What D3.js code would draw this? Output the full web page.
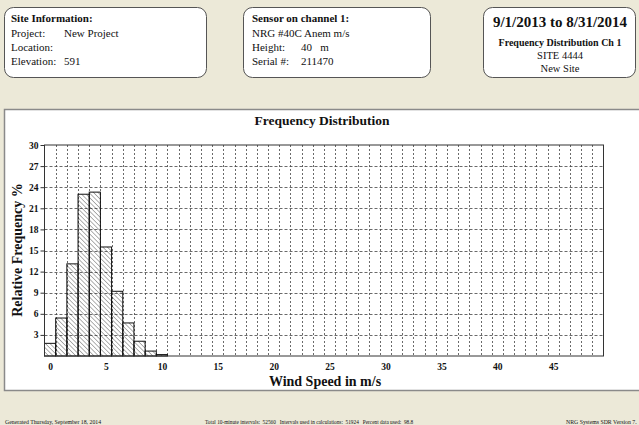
<!DOCTYPE html>
<html>
<head>
<meta charset="utf-8">
<script src="https://cdn.jsdelivr.net/npm/d3@7"></script>
<style>
  body { margin: 0; background: #ece9d8; }
  svg { display: block; }
  text { font-family: "Liberation Serif", "Times New Roman", "DejaVu Serif", serif; fill: #111; }
</style>
</head>
<body>
<div id="chart"></div>
<script>
// wind speed bins (m/s) and relative frequency (%)
const speedBins = [0, 1, 2, 3, 4, 5, 6, 7, 8, 9, 10];
const relFreq = [1.8, 5.4, 13.1, 23.0, 23.3, 15.5, 9.2, 4.7, 2.1, 0.7, 0.2];
const xTicks = [0, 5, 10, 15, 20, 25, 30, 35, 40, 45];
const yTicks = [3, 6, 9, 12, 15, 18, 21, 24, 27, 30];

const siteLines = [["Project:", "New Project"], ["Location:", ""], ["Elevation:", "591"]];
const sensorLines = [["NRG #40C Anem m/s", ""], ["Height:", "40   m"], ["Serial #:", "211470"]];

const FONT = "'Liberation Serif', 'Times New Roman', 'DejaVu Serif', serif";
const W = 639, H = 425;
const svg = d3.select("#chart").append("svg")
    .attr("width", W)
    .attr("height", H);

// hatch pattern for bars (lines falling left to right)
const defs = svg.append("defs");
defs.append("pattern")
    .attr("id", "hatch")
    .attr("patternUnits", "userSpaceOnUse")
    .attr("width", 3.2)
    .attr("height", 3.2)
    .attr("patternTransform", "rotate(-45)")
    .append("line")
    .attr("x1", 0).attr("y1", 0)
    .attr("x2", 0).attr("y2", 3.2)
    .attr("stroke", "#222")
    .attr("stroke-width", 0.7);

// info boxes
function box(x, y, w, h) {
    svg.append("rect")
        .attr("x", x).attr("y", y)
        .attr("width", w).attr("height", h)
        .attr("rx", 9).attr("ry", 9)
        .attr("fill", "#fff")
        .attr("stroke", "#555")
        .attr("stroke-width", 1);
}

box(4.5, 7.5, 202, 70);
box(243.5, 7.5, 187, 70);
box(483.5, 7.5, 152, 70);

svg.append("text").attr("x", 11).attr("y", 22)
    .style("font-size", "11px").style("font-weight", "bold")
    .text("Site Information:");
siteLines.forEach((d, i) => {
    svg.append("text").attr("x", 11).attr("y", 37 + i * 14).style("font-size", "11px").text(d[0]);
    svg.append("text").attr("x", 64).attr("y", 37 + i * 14).style("font-size", "11px").text(d[1]);
});

svg.append("text").attr("x", 252).attr("y", 22)
    .style("font-size", "11px").style("font-weight", "bold")
    .text("Sensor on channel 1:");
sensorLines.forEach((d, i) => {
    svg.append("text").attr("x", 252).attr("y", 37 + i * 14).style("font-size", "11px").text(d[0]);
    svg.append("text").attr("x", 301).attr("y", 37 + i * 14).style("font-size", "11px")
        .attr("xml:space", "preserve").text(d[1]);
});

svg.append("text").attr("x", 560).attr("y", 27).attr("text-anchor", "middle")
    .style("font-size", "15px").style("font-weight", "bold")
    .text("9/1/2013 to 8/31/2014");
svg.append("text").attr("x", 560).attr("y", 46).attr("text-anchor", "middle")
    .style("font-size", "10px").style("font-weight", "bold")
    .text("Frequency Distribution Ch 1");
svg.append("text").attr("x", 560).attr("y", 59).attr("text-anchor", "middle")
    .style("font-size", "10.5px").text("SITE 4444");
svg.append("text").attr("x", 560).attr("y", 72).attr("text-anchor", "middle")
    .style("font-size", "10.5px").text("New Site");

// chart panel
svg.append("rect")
    .attr("x", 4.5).attr("y", 109.5)
    .attr("width", 640).attr("height", 281)
    .attr("fill", "#fff")
    .attr("stroke", "#8a8a8a")
    .attr("stroke-width", 1.5);

const x = d3.scaleLinear().domain([-0.5, 49.5]).range([44.5, 603.5]);
const y = d3.scaleLinear().domain([0, 30]).range([356, 145]);

const plot = svg.append("g");

// grid
plot.selectAll(".vgrid")
    .data(d3.range(0.5, 49, 1))
    .enter().append("line")
    .attr("x1", d => Math.round(x(d)) + 0.5)
    .attr("x2", d => Math.round(x(d)) + 0.5)
    .attr("y1", y(30)).attr("y2", y(0))
    .attr("stroke", "#444")
    .attr("stroke-width", 0.8)
    .attr("stroke-dasharray", "2,2");

plot.selectAll(".hgrid")
    .data(yTicks.slice(0, -1))
    .enter().append("line")
    .attr("x1", x(-0.5)).attr("x2", x(49.5))
    .attr("y1", d => Math.round(y(d)) + 0.5)
    .attr("y2", d => Math.round(y(d)) + 0.5)
    .attr("stroke", "#444")
    .attr("stroke-width", 0.8)
    .attr("stroke-dasharray", "3,2");

// bars
plot.selectAll(".bar")
    .data(speedBins)
    .enter().append("rect")
    .attr("x", d => x(d - 0.5))
    .attr("width", x(1) - x(0))
    .attr("y", (d, i) => y(relFreq[i]))
    .attr("height", (d, i) => y(0) - y(relFreq[i]))
    .attr("fill", "url(#hatch)")
    .attr("stroke", "#111")
    .attr("stroke-width", 1);

// frame
plot.append("rect")
    .attr("x", x(-0.5)).attr("y", y(30))
    .attr("width", x(49.5) - x(-0.5))
    .attr("height", y(0) - y(30))
    .attr("fill", "none")
    .attr("stroke", "#333")
    .attr("stroke-width", 1);

// axes
const yAxis = d3.axisLeft(y).tickValues(yTicks).tickSize(4).tickPadding(2);
const yg = svg.append("g").attr("transform", `translate(${x(-0.5)},0)`).call(yAxis);
const xAxis = d3.axisBottom(x).tickValues(xTicks).tickSize(0).tickPadding(7);
const xg = svg.append("g").attr("transform", `translate(0,${y(0)})`).call(xAxis);

[yg, xg].forEach(g => {
    g.select(".domain").remove();
    g.selectAll(".tick line").attr("stroke", "#333");
    g.selectAll("text")
        .style("font-family", FONT)
        .style("font-size", "9.5px")
        .style("font-weight", "bold")
        .attr("fill", "#111");
});

// titles
svg.append("text").attr("x", 322).attr("y", 125).attr("text-anchor", "middle")
    .style("font-size", "13.5px").style("font-weight", "bold")
    .text("Frequency Distribution");
svg.append("text").attr("x", 325).attr("y", 386).attr("text-anchor", "middle")
    .style("font-size", "14px").style("font-weight", "bold")
    .text("Wind Speed in m/s");
svg.append("text")
    .attr("transform", "translate(22,250) rotate(-90)")
    .attr("text-anchor", "middle")
    .style("font-size", "14px").style("font-weight", "bold")
    .text("Relative Frequency %");

// footer
svg.append("text").attr("x", 5).attr("y", 424)
    .style("font-size", "5.8px").text("Generated Thursday, September 18, 2014");
svg.append("text").attr("x", 205).attr("y", 424)
    .attr("xml:space", "preserve")
    .style("font-size", "5.3px")
    .text("Total 10-minute intervals:  52560   Intervals used in calculations:  51924   Percent data used:  98.8");
svg.append("text").attr("x", 566).attr("y", 424)
    .style("font-size", "5.8px").text("NRG Systems SDR Version 7.");
</script>
</body>
</html>
